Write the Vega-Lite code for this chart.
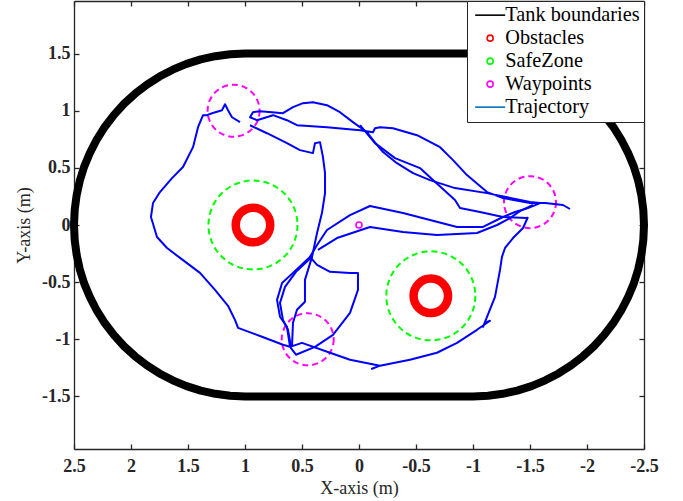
{
  "$schema": "https://vega.github.io/schema/vega-lite/v6.json",
  "width": 570,
  "height": 448,
  "autosize": "none",
  "padding": {"left": 74, "top": 1, "right": 39, "bottom": 52},
  "background": "white",
  "datasets": {
    "tank": [
      {"i": 0, "x": 1, "y": 1.5}, {"i": 1, "x": -1, "y": 1.5},
      {"i": 2, "x": -1.131, "y": 1.494}, {"i": 3, "x": -1.26, "y": 1.477}, {"i": 4, "x": -1.388, "y": 1.449},
      {"i": 5, "x": -1.513, "y": 1.41}, {"i": 6, "x": -1.634, "y": 1.359}, {"i": 7, "x": -1.75, "y": 1.299},
      {"i": 8, "x": -1.86, "y": 1.229}, {"i": 9, "x": -1.964, "y": 1.149}, {"i": 10, "x": -2.061, "y": 1.061},
      {"i": 11, "x": -2.149, "y": 0.964}, {"i": 12, "x": -2.229, "y": 0.86}, {"i": 13, "x": -2.299, "y": 0.75},
      {"i": 14, "x": -2.359, "y": 0.634}, {"i": 15, "x": -2.41, "y": 0.513}, {"i": 16, "x": -2.449, "y": 0.388},
      {"i": 17, "x": -2.477, "y": 0.26}, {"i": 18, "x": -2.494, "y": 0.131}, {"i": 19, "x": -2.5, "y": 0},
      {"i": 20, "x": -2.494, "y": -0.131}, {"i": 21, "x": -2.477, "y": -0.26}, {"i": 22, "x": -2.449, "y": -0.388},
      {"i": 23, "x": -2.41, "y": -0.513}, {"i": 24, "x": -2.359, "y": -0.634}, {"i": 25, "x": -2.299, "y": -0.75},
      {"i": 26, "x": -2.229, "y": -0.86}, {"i": 27, "x": -2.149, "y": -0.964}, {"i": 28, "x": -2.061, "y": -1.061},
      {"i": 29, "x": -1.964, "y": -1.149}, {"i": 30, "x": -1.86, "y": -1.229}, {"i": 31, "x": -1.75, "y": -1.299},
      {"i": 32, "x": -1.634, "y": -1.359}, {"i": 33, "x": -1.513, "y": -1.41}, {"i": 34, "x": -1.388, "y": -1.449},
      {"i": 35, "x": -1.26, "y": -1.477}, {"i": 36, "x": -1.131, "y": -1.494}, {"i": 37, "x": -1, "y": -1.5},
      {"i": 38, "x": 1, "y": -1.5},
      {"i": 39, "x": 1.131, "y": -1.494}, {"i": 40, "x": 1.26, "y": -1.477}, {"i": 41, "x": 1.388, "y": -1.449},
      {"i": 42, "x": 1.513, "y": -1.41}, {"i": 43, "x": 1.634, "y": -1.359}, {"i": 44, "x": 1.75, "y": -1.299},
      {"i": 45, "x": 1.86, "y": -1.229}, {"i": 46, "x": 1.964, "y": -1.149}, {"i": 47, "x": 2.061, "y": -1.061},
      {"i": 48, "x": 2.149, "y": -0.964}, {"i": 49, "x": 2.229, "y": -0.86}, {"i": 50, "x": 2.299, "y": -0.75},
      {"i": 51, "x": 2.359, "y": -0.634}, {"i": 52, "x": 2.41, "y": -0.513}, {"i": 53, "x": 2.449, "y": -0.388},
      {"i": 54, "x": 2.477, "y": -0.26}, {"i": 55, "x": 2.494, "y": -0.131}, {"i": 56, "x": 2.5, "y": 0},
      {"i": 57, "x": 2.494, "y": 0.131}, {"i": 58, "x": 2.477, "y": 0.26}, {"i": 59, "x": 2.449, "y": 0.388},
      {"i": 60, "x": 2.41, "y": 0.513}, {"i": 61, "x": 2.359, "y": 0.634}, {"i": 62, "x": 2.299, "y": 0.75},
      {"i": 63, "x": 2.229, "y": 0.86}, {"i": 64, "x": 2.149, "y": 0.964}, {"i": 65, "x": 2.061, "y": 1.061},
      {"i": 66, "x": 1.964, "y": 1.149}, {"i": 67, "x": 1.86, "y": 1.229}, {"i": 68, "x": 1.75, "y": 1.299},
      {"i": 69, "x": 1.634, "y": 1.359}, {"i": 70, "x": 1.513, "y": 1.41}, {"i": 71, "x": 1.388, "y": 1.449},
      {"i": 72, "x": 1.26, "y": 1.477}, {"i": 73, "x": 1.131, "y": 1.494}, {"i": 74, "x": 1, "y": 1.5}
    ],
    "obstacles": [
      {"series": "Obstacles", "x": 0.93, "y": 0.0},
      {"series": "Obstacles", "x": -0.63, "y": -0.62}
    ],
    "safezones": [
      {"series": "SafeZone", "x": 0.93, "y": 0.0},
      {"series": "SafeZone", "x": -0.63, "y": -0.62}
    ],
    "waypoints": [
      {"series": "Waypoints", "x": 1.1, "y": 1.0},
      {"series": "Waypoints", "x": -1.5, "y": 0.2},
      {"series": "Waypoints", "x": 0.45, "y": -1.0}
    ],
    "start": [
      {"series": "Waypoints", "x": 0.0, "y": 0.0}
    ],
    "traj": [
      {"s": "A", "i": 0, "x": 1.044, "y": 0.9}, {"s": "A", "i": 1, "x": 1.114, "y": 0.943},
      {"s": "A", "i": 2, "x": 1.149, "y": 1.004}, {"s": "A", "i": 3, "x": 1.175, "y": 1.057},
      {"s": "A", "i": 4, "x": 1.202, "y": 1.004}, {"s": "A", "i": 5, "x": 1.289, "y": 0.978},
      {"s": "A", "i": 6, "x": 1.333, "y": 0.961}, {"s": "A", "i": 7, "x": 1.368, "y": 0.961},
      {"s": "A", "i": 8, "x": 1.412, "y": 0.856}, {"s": "A", "i": 9, "x": 1.456, "y": 0.681},
      {"s": "A", "i": 10, "x": 1.544, "y": 0.507}, {"s": "A", "i": 11, "x": 1.64, "y": 0.41},
      {"s": "A", "i": 12, "x": 1.746, "y": 0.288}, {"s": "A", "i": 13, "x": 1.807, "y": 0.192},
      {"s": "A", "i": 14, "x": 1.825, "y": 0.07}, {"s": "A", "i": 15, "x": 1.772, "y": -0.105},
      {"s": "A", "i": 16, "x": 1.684, "y": -0.201}, {"s": "A", "i": 17, "x": 1.57, "y": -0.288},
      {"s": "A", "i": 18, "x": 1.395, "y": -0.419}, {"s": "A", "i": 19, "x": 1.263, "y": -0.568},
      {"s": "A", "i": 20, "x": 1.149, "y": -0.707}, {"s": "A", "i": 21, "x": 1.088, "y": -0.83},
      {"s": "A", "i": 22, "x": 1.061, "y": -0.9}, {"s": "A", "i": 23, "x": 0.851, "y": -0.978},
      {"s": "A", "i": 24, "x": 0.667, "y": -1.048}, {"s": "A", "i": 25, "x": 0.605, "y": -1.066},

      {"s": "B", "i": 0, "x": 0.605, "y": -1.066}, {"s": "B", "i": 1, "x": 0.553, "y": -1.135},
      {"s": "B", "i": 2, "x": 0.386, "y": -1.066}, {"s": "B", "i": 3, "x": 0.228, "y": -0.961},
      {"s": "B", "i": 4, "x": 0.079, "y": -0.769}, {"s": "B", "i": 5, "x": 0.009, "y": -0.568},
      {"s": "B", "i": 6, "x": 0.009, "y": -0.419}, {"s": "B", "i": 7, "x": 0.079, "y": -0.419},
      {"s": "B", "i": 8, "x": 0.254, "y": -0.41}, {"s": "B", "i": 9, "x": 0.368, "y": -0.349},
      {"s": "B", "i": 10, "x": 0.43, "y": -0.279}, {"s": "B", "i": 11, "x": 0.368, "y": -0.175},
      {"s": "B", "i": 12, "x": 0.281, "y": -0.044}, {"s": "B", "i": 13, "x": 0.079, "y": 0.087},
      {"s": "B", "i": 14, "x": -0.096, "y": 0.166}, {"s": "B", "i": 15, "x": -0.386, "y": 0.105},
      {"s": "B", "i": 16, "x": -0.86, "y": -0.017}, {"s": "B", "i": 17, "x": -1.088, "y": -0.017},
      {"s": "B", "i": 18, "x": -1.263, "y": 0.07}, {"s": "B", "i": 19, "x": -1.368, "y": 0.114},
      {"s": "B", "i": 20, "x": -1.482, "y": 0.148},

      {"s": "C", "i": 0, "x": -1.482, "y": 0.148}, {"s": "C", "i": 1, "x": -1.588, "y": 0.192},
      {"s": "C", "i": 2, "x": -1.5, "y": 0.201}, {"s": "C", "i": 3, "x": -1.123, "y": 0.279},
      {"s": "C", "i": 4, "x": -0.842, "y": 0.323}, {"s": "C", "i": 5, "x": -0.623, "y": 0.393},
      {"s": "C", "i": 6, "x": -0.474, "y": 0.454}, {"s": "C", "i": 7, "x": -0.333, "y": 0.541},
      {"s": "C", "i": 8, "x": -0.211, "y": 0.638}, {"s": "C", "i": 9, "x": -0.123, "y": 0.742},
      {"s": "C", "i": 10, "x": -0.07, "y": 0.812}, {"s": "C", "i": 11, "x": 0.053, "y": 0.9},
      {"s": "C", "i": 12, "x": 0.167, "y": 0.987}, {"s": "C", "i": 13, "x": 0.281, "y": 1.048},
      {"s": "C", "i": 14, "x": 0.404, "y": 1.074}, {"s": "C", "i": 15, "x": 0.491, "y": 1.066},
      {"s": "C", "i": 16, "x": 0.579, "y": 1.031}, {"s": "C", "i": 17, "x": 0.667, "y": 0.978},
      {"s": "C", "i": 18, "x": 0.763, "y": 0.987}, {"s": "C", "i": 19, "x": 0.868, "y": 0.996},
      {"s": "C", "i": 20, "x": 0.93, "y": 0.987}, {"s": "C", "i": 21, "x": 0.956, "y": 0.943},
      {"s": "C", "i": 22, "x": 0.895, "y": 0.917}, {"s": "C", "i": 23, "x": 0.754, "y": 0.961},
      {"s": "C", "i": 24, "x": 0.632, "y": 0.917}, {"s": "C", "i": 25, "x": 0.544, "y": 0.873},
      {"s": "C", "i": 26, "x": 0.281, "y": 0.856}, {"s": "C", "i": 27, "x": -0.009, "y": 0.83},
      {"s": "C", "i": 28, "x": -0.123, "y": 0.812}, {"s": "C", "i": 29, "x": -0.14, "y": 0.847},
      {"s": "C", "i": 30, "x": -0.184, "y": 0.856}, {"s": "C", "i": 31, "x": -0.298, "y": 0.847},
      {"s": "C", "i": 32, "x": -0.509, "y": 0.786}, {"s": "C", "i": 33, "x": -0.711, "y": 0.681},
      {"s": "C", "i": 34, "x": -0.825, "y": 0.568}, {"s": "C", "i": 35, "x": -0.947, "y": 0.437},
      {"s": "C", "i": 36, "x": -1.123, "y": 0.288}, {"s": "C", "i": 37, "x": -1.263, "y": 0.236},
      {"s": "C", "i": 38, "x": -1.5, "y": 0.192}, {"s": "C", "i": 39, "x": -1.632, "y": 0.192},
      {"s": "C", "i": 40, "x": -1.789, "y": 0.175}, {"s": "C", "i": 41, "x": -1.851, "y": 0.14},

      {"s": "D", "i": 0, "x": -0.009, "y": 0.873}, {"s": "D", "i": 1, "x": -0.14, "y": 0.716},
      {"s": "D", "i": 2, "x": -0.316, "y": 0.585}, {"s": "D", "i": 3, "x": -0.535, "y": 0.498},
      {"s": "D", "i": 4, "x": -0.649, "y": 0.393}, {"s": "D", "i": 5, "x": -0.842, "y": 0.218},
      {"s": "D", "i": 6, "x": -0.886, "y": 0.148}, {"s": "D", "i": 7, "x": -1.061, "y": 0.114},
      {"s": "D", "i": 8, "x": -1.263, "y": 0.07}, {"s": "D", "i": 9, "x": -1.474, "y": 0.061},

      {"s": "E", "i": 0, "x": 0.956, "y": 0.873}, {"s": "E", "i": 1, "x": 0.807, "y": 0.803},
      {"s": "E", "i": 2, "x": 0.632, "y": 0.716}, {"s": "E", "i": 3, "x": 0.518, "y": 0.655},
      {"s": "E", "i": 4, "x": 0.404, "y": 0.629}, {"s": "E", "i": 5, "x": 0.386, "y": 0.716},
      {"s": "E", "i": 6, "x": 0.342, "y": 0.725}, {"s": "E", "i": 7, "x": 0.316, "y": 0.594},
      {"s": "E", "i": 8, "x": 0.298, "y": 0.454}, {"s": "E", "i": 9, "x": 0.298, "y": 0.279},
      {"s": "E", "i": 10, "x": 0.325, "y": 0.105}, {"s": "E", "i": 11, "x": 0.368, "y": -0.07},
      {"s": "E", "i": 12, "x": 0.412, "y": -0.279}, {"s": "E", "i": 13, "x": 0.474, "y": -0.48},
      {"s": "E", "i": 14, "x": 0.474, "y": -0.672}, {"s": "E", "i": 15, "x": 0.544, "y": -0.742},
      {"s": "E", "i": 16, "x": 0.579, "y": -0.856}, {"s": "E", "i": 17, "x": 0.588, "y": -1.066},

      {"s": "F", "i": 0, "x": 0.43, "y": -0.279}, {"s": "F", "i": 1, "x": 0.579, "y": -0.419},
      {"s": "F", "i": 2, "x": 0.675, "y": -0.507}, {"s": "F", "i": 3, "x": 0.719, "y": -0.655},
      {"s": "F", "i": 4, "x": 0.693, "y": -0.803}, {"s": "F", "i": 5, "x": 0.632, "y": -0.891},
      {"s": "F", "i": 6, "x": 0.605, "y": -1.066},

      {"s": "F2", "i": 0, "x": 0.412, "y": -0.279}, {"s": "F2", "i": 1, "x": 0.553, "y": -0.41},
      {"s": "F2", "i": 2, "x": 0.649, "y": -0.541}, {"s": "F2", "i": 3, "x": 0.693, "y": -0.681},
      {"s": "F2", "i": 4, "x": 0.667, "y": -0.83}, {"s": "F2", "i": 5, "x": 0.623, "y": -0.917},
      {"s": "F2", "i": 6, "x": 0.596, "y": -1.066},

      {"s": "G", "i": 0, "x": 0.36, "y": -0.218}, {"s": "G", "i": 1, "x": 0.193, "y": -0.114},
      {"s": "G", "i": 2, "x": -0.096, "y": -0.017}, {"s": "G", "i": 3, "x": -0.386, "y": -0.061},
      {"s": "G", "i": 4, "x": -0.684, "y": -0.087}, {"s": "G", "i": 5, "x": -1.035, "y": -0.07},
      {"s": "G", "i": 6, "x": -1.211, "y": 0.0}, {"s": "G", "i": 7, "x": -1.325, "y": 0.061},
      {"s": "G", "i": 8, "x": -1.412, "y": 0.122}, {"s": "G", "i": 9, "x": -1.526, "y": 0.175},

      {"s": "H", "i": 0, "x": 0.605, "y": -1.066}, {"s": "H", "i": 1, "x": 0.5, "y": -1.031},
      {"s": "H", "i": 2, "x": 0.254, "y": -1.118}, {"s": "H", "i": 3, "x": 0.079, "y": -1.179},
      {"s": "H", "i": 4, "x": -0.184, "y": -1.231}, {"s": "H", "i": 5, "x": -0.114, "y": -1.258},
      {"s": "H", "i": 6, "x": -0.184, "y": -1.231}, {"s": "H", "i": 7, "x": -0.447, "y": -1.179},
      {"s": "H", "i": 8, "x": -0.684, "y": -1.118}, {"s": "H", "i": 9, "x": -0.86, "y": -1.031},
      {"s": "H", "i": 10, "x": -1.035, "y": -0.917}, {"s": "H", "i": 11, "x": -1.149, "y": -0.838},
      {"s": "H", "i": 12, "x": -1.105, "y": -0.856}, {"s": "H", "i": 13, "x": -1.088, "y": -0.891},
      {"s": "H", "i": 14, "x": -1.193, "y": -0.629}, {"s": "H", "i": 15, "x": -1.237, "y": -0.393},
      {"s": "H", "i": 16, "x": -1.254, "y": -0.279}, {"s": "H", "i": 17, "x": -1.281, "y": -0.201},
      {"s": "H", "i": 18, "x": -1.351, "y": -0.114}, {"s": "H", "i": 19, "x": -1.439, "y": -0.026},
      {"s": "H", "i": 20, "x": -1.482, "y": 0.07}
    ]
  },
  "resolve": {"axis": {"x": "independent", "y": "independent"}},
  "layer": [
    {
      "data": {"name": "tank"},
      "mark": {"type": "line", "color": "#000000", "strokeWidth": 8, "strokeJoin": "round", "strokeCap": "round"},
      "encoding": {
        "x": {
          "field": "x", "type": "quantitative",
          "scale": {"domain": [-2.5, 2.5], "reverse": true, "nice": false, "zero": false},
          "axis": {"orient": "bottom", "title": "X-axis (m)", "values": [2.5, 2, 1.5, 1, 0.5, 0, -0.5, -1, -1.5, -2, -2.5], "labelExpr": "'' + datum.value", "labelPadding": 13, "titlePadding": 4}
        },
        "y": {
          "field": "y", "type": "quantitative",
          "scale": {"domain": [-1.96, 1.96], "nice": false, "zero": false},
          "axis": {"orient": "left", "title": "Y-axis (m)", "values": [-1.5, -1, -0.5, 0, 0.5, 1, 1.5], "labelExpr": "'' + datum.value", "labelPadding": 9, "titlePadding": 8}
        },
        "order": {"field": "i"}
      }
    },
    {
      "data": {"name": "obstacles"},
      "mark": {"type": "point", "filled": false, "opacity": 1, "color": "#FF0000", "size": 1190, "strokeWidth": 8.5},
      "encoding": {
        "x": {"field": "x", "type": "quantitative", "axis": null},
        "y": {"field": "y", "type": "quantitative", "axis": null}
      }
    },
    {
      "data": {"name": "safezones"},
      "mark": {"type": "point", "filled": false, "opacity": 1, "color": "#00FF00", "size": 7921, "strokeWidth": 2, "strokeDash": [6, 4]},
      "encoding": {
        "x": {"field": "x", "type": "quantitative", "axis": null},
        "y": {"field": "y", "type": "quantitative", "axis": null}
      }
    },
    {
      "data": {"name": "waypoints"},
      "mark": {"type": "point", "filled": false, "opacity": 1, "color": "#FF00FF", "size": 2704, "strokeWidth": 2, "strokeDash": [6, 4]},
      "encoding": {
        "x": {"field": "x", "type": "quantitative", "axis": null},
        "y": {"field": "y", "type": "quantitative", "axis": null}
      }
    },
    {
      "data": {"name": "start"},
      "mark": {"type": "point", "filled": false, "opacity": 1, "size": 36, "strokeWidth": 1.6},
      "encoding": {
        "x": {"field": "x", "type": "quantitative", "axis": null},
        "y": {"field": "y", "type": "quantitative", "axis": null},
        "color": {
          "field": "series", "type": "nominal",
          "scale": {"domain": ["Tank boundaries", "Obstacles", "SafeZone", "Waypoints", "Trajectory"], "range": ["#000000", "#FF0000", "#00FF00", "#FF00FF", "#0072BD"]},
          "legend": {"title": null}
        },
        "shape": {
          "field": "series", "type": "nominal",
          "scale": {"domain": ["Tank boundaries", "Obstacles", "SafeZone", "Waypoints", "Trajectory"], "range": ["M-5,0H5", "circle", "circle", "circle", "M-5,0H5"]},
          "legend": {"title": null}
        }
      }
    },
    {
      "data": {"name": "traj"},
      "mark": {"type": "line", "color": "#0000FF", "strokeWidth": 2, "strokeJoin": "round"},
      "encoding": {
        "x": {"field": "x", "type": "quantitative", "axis": {"orient": "top", "labels": false, "title": null, "values": [2.5, 2, 1.5, 1, 0.5, 0, -0.5, -1, -1.5, -2, -2.5]}},
        "y": {"field": "y", "type": "quantitative", "axis": {"orient": "right", "labels": false, "title": null, "values": [-1.5, -1, -0.5, 0, 0.5, 1, 1.5]}},
        "detail": {"field": "s", "type": "nominal"},
        "order": {"field": "i"}
      }
    }
  ],
  "config": {
    "view": {"stroke": null},
    "font": "Liberation Serif",
    "axis": {
      "grid": false, "domainColor": "#262626", "domainWidth": 1.3, "tickColor": "#262626", "tickWidth": 1.3, "tickSize": -5,
      "labelFont": "Liberation Serif", "labelFontWeight": "bold", "labelFontSize": 18, "labelColor": "#262626", "labelPadding": 6,
      "labelFlush": false, "labelOverlap": false,
      "titleFont": "Liberation Serif", "titleFontWeight": "normal", "titleFontSize": 18, "titleColor": "#262626"
    },
    "legend": {
      "orient": "top-right", "offset": 0, "padding": 4, "fillColor": "#FFFFFF", "strokeColor": "#262626", "cornerRadius": 0,
      "labelFont": "Liberation Serif", "labelFontSize": 20.3, "labelColor": "#000000", "labelOffset": 5, "symbolOffset": 9,
      "symbolSize": 36, "symbolStrokeWidth": 1.6, "rowPadding": 2, "symbolFillColor": "transparent"
    }
  }
}
